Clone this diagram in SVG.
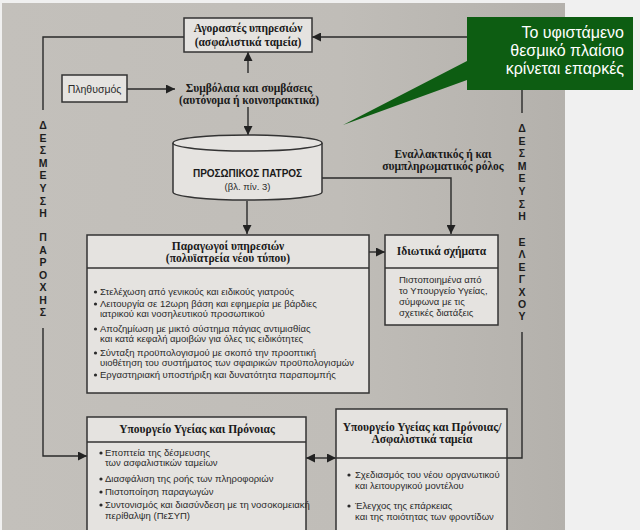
<svg xmlns="http://www.w3.org/2000/svg" width="640" height="530" viewBox="0 0 640 530">
<defs>
<linearGradient id="bg" x1="0" y1="0" x2="1" y2="0">
<stop offset="0" stop-color="#c3c0bb"/>
<stop offset="0.6" stop-color="#c0bdb8"/>
<stop offset="1" stop-color="#b4b1ac"/>
</linearGradient>
<marker id="ah" viewBox="0 0 10 10" refX="10" refY="5" markerWidth="9" markerHeight="9" markerUnits="userSpaceOnUse" orient="auto-start-reverse">
<path d="M0,0 L10,5 L0,10 z" fill="#222"/>
</marker>
<style>
.box{fill:#e5e3e0;stroke:#333;stroke-width:1.5}
.div{stroke:#333;stroke-width:1.5;fill:none}
.con{stroke:#2a2a2a;stroke-width:1.4;fill:none}
.hd{font-family:"Liberation Serif","DejaVu Serif",serif;font-weight:bold;font-size:11.5px;fill:#1a1a1a;text-anchor:middle}
.bt{font-family:"Liberation Sans","DejaVu Sans",sans-serif;font-size:9.5px;fill:#2a2a2a}
.vl{font-family:"Liberation Sans","DejaVu Sans",sans-serif;font-weight:bold;font-size:10.5px;fill:#1e1e1e;text-anchor:middle}
.gt{font-family:"Liberation Sans","Noto Sans",sans-serif;font-size:16px;fill:#ffffff;text-anchor:end}
</style>
</defs>
<rect x="0" y="0" width="640" height="530" fill="#f0f0f0"/>
<rect x="2" y="3" width="563" height="527" fill="url(#bg)"/>

<g id="connectors">
<path class="con" d="M43,110 V37 H184"/>
<path class="con" d="M43,328 V456 H87" marker-end="url(#ah)"/>
<path class="con" d="M522,113 V37 H312" marker-end="url(#ah)"/>
<path class="con" d="M522,332 V458 H507"/>
<path class="con" d="M127,89 H175" marker-end="url(#ah)"/>
<path class="con" d="M248,73 V52" marker-end="url(#ah)"/>
<path class="con" d="M248,107 V135" marker-end="url(#ah)"/>
<path class="con" d="M247,201 V234" marker-end="url(#ah)"/>
<path class="con" d="M322,178 H451 V234" marker-end="url(#ah)"/>
<path class="con" d="M369,252 H385" marker-end="url(#ah)"/>
<path class="con" d="M306,458 H336" marker-start="url(#ah)" marker-end="url(#ah)"/>
</g>

<g id="label-left">
<text class="vl" x="43" y="129">Δ</text>
<text class="vl" x="43" y="142">Ε</text>
<text class="vl" x="43" y="154">Σ</text>
<text class="vl" x="43" y="167">Μ</text>
<text class="vl" x="43" y="179">Ε</text>
<text class="vl" x="43" y="192">Υ</text>
<text class="vl" x="43" y="205">Σ</text>
<text class="vl" x="43" y="217">Η</text>
<text class="vl" x="43" y="241">Π</text>
<text class="vl" x="43" y="254">Α</text>
<text class="vl" x="43" y="266">Ρ</text>
<text class="vl" x="43" y="279">Ο</text>
<text class="vl" x="43" y="291">Χ</text>
<text class="vl" x="43" y="304">Η</text>
<text class="vl" x="43" y="316">Σ</text>
</g>

<g id="label-right">
<text class="vl" x="522" y="132">Δ</text>
<text class="vl" x="522" y="145">Ε</text>
<text class="vl" x="522" y="157">Σ</text>
<text class="vl" x="522" y="170">Μ</text>
<text class="vl" x="522" y="182">Ε</text>
<text class="vl" x="522" y="195">Υ</text>
<text class="vl" x="522" y="208">Σ</text>
<text class="vl" x="522" y="220">Η</text>
<text class="vl" x="522" y="246">Ε</text>
<text class="vl" x="522" y="258">Λ</text>
<text class="vl" x="522" y="271">Ε</text>
<text class="vl" x="522" y="283">Γ</text>
<text class="vl" x="522" y="296">Χ</text>
<text class="vl" x="522" y="308">Ο</text>
<text class="vl" x="522" y="320">Υ</text>
</g>

<g id="buyers">
<rect class="box" x="184" y="18" width="128" height="34"/>
<text class="hd" x="248" y="32">Αγοραστές υπηρεσιών</text>
<text class="hd" x="248" y="46">(ασφαλιστικά ταμεία)</text>
</g>

<g id="population">
<rect class="box" x="62" y="75" width="65" height="27"/>
<text x="94.5" y="92.5" font-family="'Liberation Sans','DejaVu Sans',sans-serif" font-size="10.5" fill="#2a2a2a" text-anchor="middle">Πληθυσμός</text>
</g>

<g id="contracts">
<text class="hd" x="249" y="92">Συμβόλαια και συμβάσεις</text>
<text class="hd" x="249" y="104">(αυτόνομα ή κοινοπρακτικά)</text>
</g>

<g id="doctor">
<path d="M173,143 V192 A74.5,8 0 0 0 322,192 V143" fill="#e5e3e0" stroke="#333" stroke-width="1.5"/>
<ellipse cx="247.5" cy="143" rx="74.5" ry="8" fill="#e5e3e0" stroke="#333" stroke-width="1.5"/>
<text x="247.5" y="177" font-family="'Liberation Sans','DejaVu Sans',sans-serif" font-weight="bold" font-size="10" fill="#1a1a1a" text-anchor="middle">ΠΡΟΣΩΠΙΚΟΣ ΠΑΤΡΟΣ</text>
<text x="247.5" y="190" font-family="'Liberation Sans','DejaVu Sans',sans-serif" font-size="9.5" fill="#2a2a2a" text-anchor="middle">(βλ. πίν. 3)</text>
</g>

<g id="alt-role">
<text class="hd" x="443" y="158">Εναλλακτικός ή και</text>
<text class="hd" x="443" y="170">συμπληρωματικός ρόλος</text>
</g>

<g id="producers">
<rect class="box" x="87" y="235" width="282" height="158"/>
<line class="div" x1="87" y1="268" x2="369" y2="268"/>
<text class="hd" x="228" y="250">Παραγωγοί υπηρεσιών</text>
<text class="hd" x="228" y="262">(πολυϊατρεία νέου τύπου)</text>
<g class="bt">
<circle cx="95.5" cy="292" r="1.6" fill="#2a2a2a"/>
<text x="100" y="295">Στελέχωση από γενικούς και ειδικούς γιατρούς</text>
<circle cx="95.5" cy="304" r="1.6" fill="#2a2a2a"/>
<text x="100" y="307">Λειτουργία σε 12ωρη βάση και εφημερία με βάρδιες</text>
<text x="100" y="317">ιατρικού και νοσηλευτικού προσωπικού</text>
<circle cx="95.5" cy="329" r="1.6" fill="#2a2a2a"/>
<text x="100" y="332">Αποζημίωση με μικτό σύστημα πάγιας αντιμισθίας</text>
<text x="100" y="342">και κατά κεφαλή αμοιβών για όλες τις ειδικότητες</text>
<circle cx="95.5" cy="353" r="1.6" fill="#2a2a2a"/>
<text x="100" y="356">Σύνταξη προϋπολογισμού με σκοπό την προοπτική</text>
<text x="100" y="366">υιοθέτηση του συστήματος των σφαιρικών προϋπολογισμών</text>
<circle cx="95.5" cy="375" r="1.6" fill="#2a2a2a"/>
<text x="100" y="378">Εργαστηριακή υποστήριξη και δυνατότητα παραπομπής</text>
</g>
</g>

<g id="private">
<rect class="box" x="385" y="235" width="113" height="90"/>
<line class="div" x1="385" y1="268" x2="498" y2="268"/>
<text class="hd" x="441.5" y="255">Ιδιωτικά σχήματα</text>
<g class="bt">
<text x="399" y="283">Πιστοποιημένα από</text>
<text x="399" y="294">το Υπουργείο Υγείας,</text>
<text x="399" y="305">σύμφωνα με τις</text>
<text x="399" y="316">σχετικές διατάξεις</text>
</g>
</g>

<g id="ministry">
<rect class="box" x="87" y="417" width="219" height="120"/>
<line class="div" x1="87" y1="442" x2="306" y2="442"/>
<text class="hd" x="197" y="433">Υπουργείο Υγείας και Πρόνοιας</text>
<g class="bt">
<circle cx="101" cy="453" r="1.6" fill="#2a2a2a"/>
<text x="105" y="456">Εποπτεία της δέσμευσης</text>
<text x="105" y="466">των ασφαλιστικών ταμείων</text>
<circle cx="101" cy="479" r="1.6" fill="#2a2a2a"/>
<text x="105" y="482">Διασφάλιση της ροής των πληροφοριών</text>
<circle cx="101" cy="492" r="1.6" fill="#2a2a2a"/>
<text x="105" y="495">Πιστοποίηση παραγωγών</text>
<circle cx="101" cy="505" r="1.6" fill="#2a2a2a"/>
<text x="105" y="508">Συντονισμός και διασύνδεση με τη νοσοκομειακή</text>
<text x="105" y="519">περίθαλψη (ΠεΣΥΠ)</text>
</g>
</g>

<g id="ministry-funds">
<rect class="box" x="336" y="409" width="171" height="130"/>
<line class="div" x1="336" y1="458" x2="507" y2="458"/>
<text class="hd" x="422" y="431">Υπουργείο Υγείας και Πρόνοιας/</text>
<text class="hd" x="422" y="443">Ασφαλιστικά ταμεία</text>
<g class="bt">
<circle cx="349" cy="475" r="1.6" fill="#2a2a2a"/>
<text x="355" y="478">Σχεδιασμός του νέου οργανωτικού</text>
<text x="355" y="489">και λειτουργικού μοντέλου</text>
<circle cx="349" cy="506" r="1.6" fill="#2a2a2a"/>
<text x="355" y="509">Έλεγχος της επάρκειας</text>
<text x="355" y="520">και της ποιότητας των φροντίδων</text>
</g>
</g>

<g id="callout">
<path d="M467,17 H633 V90 H467 V80 L343,125 L467,61 Z" fill="#0d5d12"/>
<text class="gt" x="624" y="38">Το υφιστάμενο</text>
<text class="gt" x="624" y="56">θεσμικό πλαίσιο</text>
<text class="gt" x="624" y="74">κρίνεται επαρκές</text>
</g>
</svg>
